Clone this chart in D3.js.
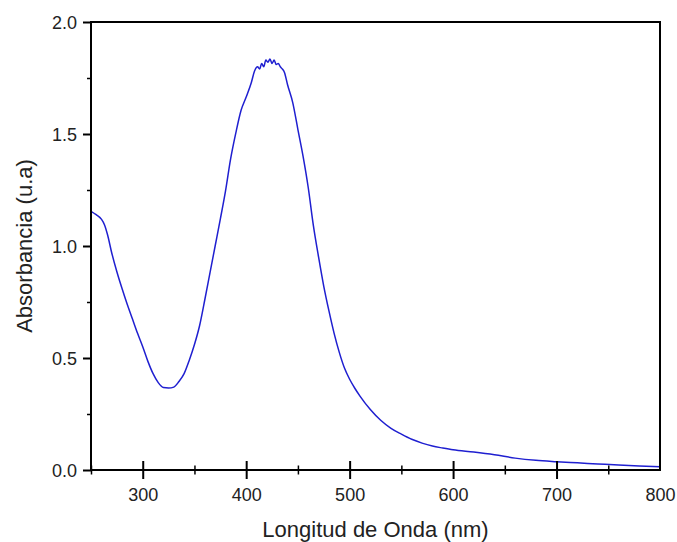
<!DOCTYPE html>
<html>
<head>
<meta charset="utf-8">
<script src="https://cdn.jsdelivr.net/npm/d3@7"></script>
<style>
  body { margin: 0; background: #fff; }
  svg { font-family: "Liberation Sans", Arial, sans-serif; }
</style>
</head>
<body>
<svg width="677" height="542"></svg>
<script>
// absorbance spectrum, values
const wavelength = [250,255,260,263,266,270,275,280,285,290,295,300,305,310,315,320,325,330,335,340,
  345,350,355,360,365,370,375,380,385,390,395,400,405,408,411,413,415,417,419,421,423,425,427,429,431,433,435,437,
  440,445,450,455,460,465,470,475,480,485,490,495,500,505,510,520,530,540,550,560,570,580,590,600,
  620,640,660,680,700,720,740,760,780,800];
const absorbance = [1.155,1.14,1.12,1.095,1.05,0.97,0.885,0.81,0.74,0.675,0.61,0.55,0.485,0.43,0.39,0.368,0.366,0.37,0.395,0.43,
  0.49,0.56,0.645,0.76,0.88,1.00,1.12,1.245,1.39,1.505,1.605,1.665,1.73,1.78,1.80,1.79,1.815,1.80,1.83,1.82,1.835,1.815,1.83,1.81,1.815,1.80,1.79,1.775,
  1.72,1.64,1.52,1.40,1.26,1.09,0.95,0.82,0.71,0.61,0.525,0.455,0.405,0.365,0.33,0.27,0.222,0.186,0.16,0.137,0.12,0.107,0.098,0.09,
  0.08,0.068,0.053,0.043,0.037,0.032,0.027,0.022,0.018,0.015];

const xTicks = [250,300,350,400,450,500,550,600,650,700,750,800];
const yTicks = [0,0.25,0.5,0.75,1,1.25,1.5,1.75,2];

const svg = d3.select("svg");
const plotL = 91, plotR = 660, plotT = 22, plotB = 470;

const x = d3.scaleLinear().domain([250, 800]).range([plotL, plotR]);
const y = d3.scaleLinear().domain([0, 2]).range([plotB, plotT]);

const data = wavelength.map((w, i) => ({w: w, a: absorbance[i]}));

// curve
svg.append("path")
  .datum(data)
  .attr("fill", "none")
  .attr("stroke", "#1f1fd0")
  .attr("stroke-width", 1.5)
  .attr("stroke-linejoin", "round")
  .attr("d", d3.line().curve(d3.curveMonotoneX).x(d => x(d.w)).y(d => y(d.a)));

// frame
svg.append("rect")
  .attr("x", plotL).attr("y", plotT)
  .attr("width", plotR - plotL).attr("height", plotB - plotT)
  .attr("fill", "none").attr("stroke", "#000").attr("stroke-width", 2);

// x axis, ticks cross the line
const xAxis = svg.append("g")
  .attr("transform", `translate(0,${plotB})`)
  .call(d3.axisBottom(x).tickValues(xTicks)
    .tickFormat(d => d % 100 === 0 ? d : "").tickSize(0).tickPadding(0));
xAxis.select(".domain").remove();
xAxis.selectAll(".tick line")
  .attr("y1", d => d === 800 ? 0 : d % 100 === 0 ? -9 : -4.5)
  .attr("y2", d => d === 800 ? 0 : d % 100 === 0 ? 9 : 4.5)
  .attr("stroke", "#000").attr("stroke-width", d => d % 100 === 0 ? 2 : 1.5);
xAxis.selectAll(".tick text")
  .attr("y", 31).attr("dy", null)
  .attr("font-size", 18).attr("fill", "#222");

// y axis, ticks outward
const yAxis = svg.append("g")
  .attr("transform", `translate(${plotL},0)`)
  .call(d3.axisLeft(y).tickValues(yTicks)
    .tickFormat(d => (d * 2) % 1 === 0 ? d3.format(".1f")(d) : "").tickSize(0));
yAxis.select(".domain").remove();
yAxis.selectAll(".tick line")
  .attr("x2", d => (d * 2) % 1 === 0 ? -8 : -4)
  .attr("stroke", "#000").attr("stroke-width", d => (d * 2) % 1 === 0 ? 2 : 1.5);
yAxis.selectAll(".tick text")
  .attr("x", -14).attr("dy", "0.35em")
  .attr("font-size", 18).attr("fill", "#222");

// titles
svg.append("text")
  .attr("x", (plotL + plotR) / 2).attr("y", 537)
  .attr("text-anchor", "middle")
  .attr("font-size", 22).attr("fill", "#222")
  .text("Longitud de Onda (nm)");

svg.append("text")
  .attr("transform", `translate(32,${(plotT + plotB) / 2}) rotate(-90)`)
  .attr("text-anchor", "middle")
  .attr("font-size", 22).attr("fill", "#222")
  .text("Absorbancia (u.a)");
</script>
</body>
</html>
